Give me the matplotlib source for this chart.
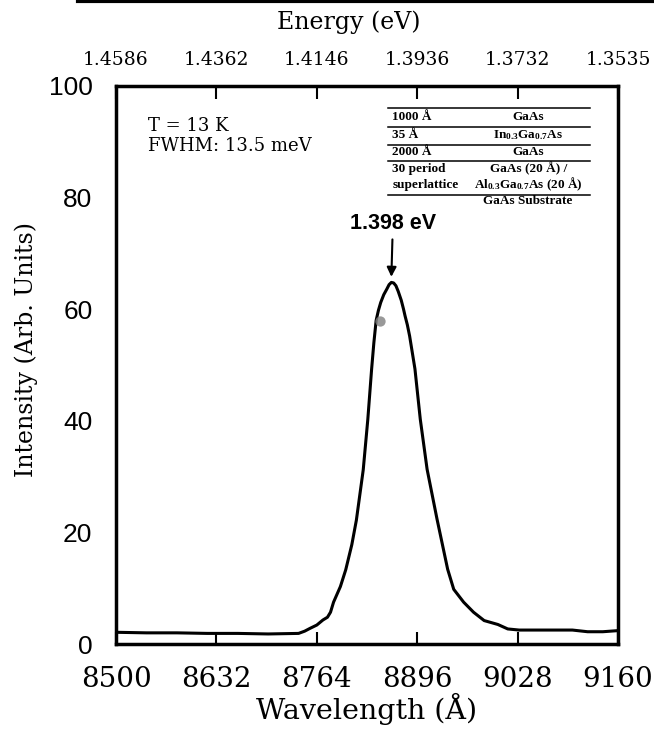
import numpy as np
import matplotlib
matplotlib.use('Agg')
import matplotlib.pyplot as plt
from matplotlib.lines import Line2D

plt.rcParams['mathtext.default'] = 'regular'

# Espectro de fotoluminiscencia
wavelength = [8500, 8540, 8580, 8620, 8660, 8700, 8740, 8748, 8755, 8764,
              8772, 8778, 8782, 8786, 8795, 8802, 8810, 8816, 8825, 8831,
              8836, 8839, 8842, 8845, 8848, 8852, 8856, 8859, 8862, 8865,
              8868, 8871, 8875, 8878, 8880, 8883, 8886, 8893, 8900, 8909,
              8922, 8936, 8944, 8957, 8970, 8984, 9002, 9015, 9030, 9045,
              9070, 9100, 9120, 9140, 9160]
intensity = [2.1, 2.0, 2.0, 1.9, 1.9, 1.8, 1.9, 2.3, 2.8, 3.4,
             4.3, 4.8, 5.7, 7.5, 10.3, 13.3, 17.8, 22.2, 31.2, 40.2,
             49.2, 54.0, 58.0, 59.8, 61.2, 62.6, 63.6, 64.4, 64.8, 64.7,
             64.2, 63.2, 61.6, 60.0, 58.8, 57.2, 55.2, 49.3, 40.3, 31.3,
             22.4, 13.4, 9.8, 7.5, 5.7, 4.2, 3.5, 2.7, 2.5, 2.5,
             2.5, 2.5, 2.2, 2.2, 2.4]

wl_ticks = [8500, 8632, 8764, 8896, 9028, 9160]
energy_labels = ['1.4586', '1.4362', '1.4146', '1.3936', '1.3732', '1.3535']
y_ticks = [0, 20, 40, 60, 80, 100]

peak_label = '1.398 eV'
peak_wl = 8862
peak_int = 64.8

# mancha gris del escaneo
spot_wl = [8847]
spot_int = [57.9]

layers_left = ['1000 Å', '35 Å', '2000 Å', '30 period', 'superlattice']
layers_right = ['GaAs', 'In$_{0.3}$Ga$_{0.7}$As', 'GaAs', 'GaAs (20 Å) /',
                'Al$_{0.3}$Ga$_{0.7}$As (20 Å)']
substrate = 'GaAs Substrate'

serif = 'DejaVu Serif'
sans = 'Liberation Sans'

fig = plt.figure(figsize=(6.54, 7.30), dpi=100)
ax = fig.add_axes([0.1774, 0.1178, 0.7676, 0.7644])

ax.plot(wavelength, intensity, color='black', lw=2.2, solid_joinstyle='round')
ax.scatter(spot_wl, spot_int, s=55, color='#808080', alpha=0.8, zorder=3, lw=0)

ax.set_xlim(8500, 9160)
ax.set_ylim(0, 100)

ax.set_xticks(wl_ticks)
ax.set_xticklabels([str(t) for t in wl_ticks], fontsize=20, family=serif)
ax.set_yticks(y_ticks)
ax.set_yticklabels([str(t) for t in y_ticks], fontsize=19, family=sans)
ax.tick_params(axis='x', direction='in', length=9, width=1.5, pad=16)
ax.tick_params(axis='y', direction='in', length=1, width=1, pad=17)
ax.set_xlabel('Wavelength (Å)', fontsize=20.5, family=serif, labelpad=0)
ax.set_ylabel('Intensity (Arb. Units)', fontsize=17, family=serif)
ax.yaxis.set_label_coords(-0.155, 0.527)

for s in ax.spines.values():
    s.set_linewidth(2.5)

# eje superior en energia
top = ax.twiny()
top.set_xlim(ax.get_xlim())
top.set_xticks(wl_ticks)
top.set_xticklabels(energy_labels, fontsize=13.5, family=serif)
top.tick_params(axis='x', direction='in', length=9, width=1.5, pad=12)
top.set_xlabel('Energy (eV)', fontsize=17, family=serif, labelpad=16)
top.xaxis.label.set_x(0.464)

ax.text(0.064, 0.945, 'T = 13 K\nFWHM: 13.5 meV', transform=ax.transAxes,
        fontsize=13, family=serif, va='top', ha='left', linespacing=1.15)

ax.annotate(peak_label, xy=(peak_wl, peak_int + 1.0), xytext=(peak_wl + 2, 73.5),
            ha='center', va='bottom', fontsize=15.5, fontweight='bold', family=sans,
            arrowprops=dict(arrowstyle='-|>', color='black', lw=1.5,
                            mutation_scale=14, shrinkA=2, shrinkB=0))

# tabla de capas
line_y = [0.9606, 0.926, 0.8948, 0.865, 0.805]
for yy in line_y:
    ax.plot([0.542, 0.944], [yy, yy], transform=ax.transAxes, color='black', lw=1.1)
row_y = [0.944, 0.9127, 0.8817, 0.8513, 0.8231]
for yy, lt, rt in zip(row_y, layers_left, layers_right):
    ax.text(0.55, yy, lt, transform=ax.transAxes, fontsize=9.5, family='Liberation Serif',
            fontweight='bold', va='center', ha='left')
    ax.text(0.821, yy, rt, transform=ax.transAxes, fontsize=9.5, family='Liberation Serif',
            fontweight='bold', va='center', ha='center')
ax.text(0.82, 0.7934, substrate, transform=ax.transAxes, fontsize=9.5,
        family='Liberation Serif', fontweight='bold', va='center', ha='center')

# linea negra en el borde superior del escaneo
fig.add_artist(Line2D([0.12, 1.0], [0.998, 0.998], transform=fig.transFigure,
                      color='black', lw=3))

fig.savefig('out.png', dpi=100)
